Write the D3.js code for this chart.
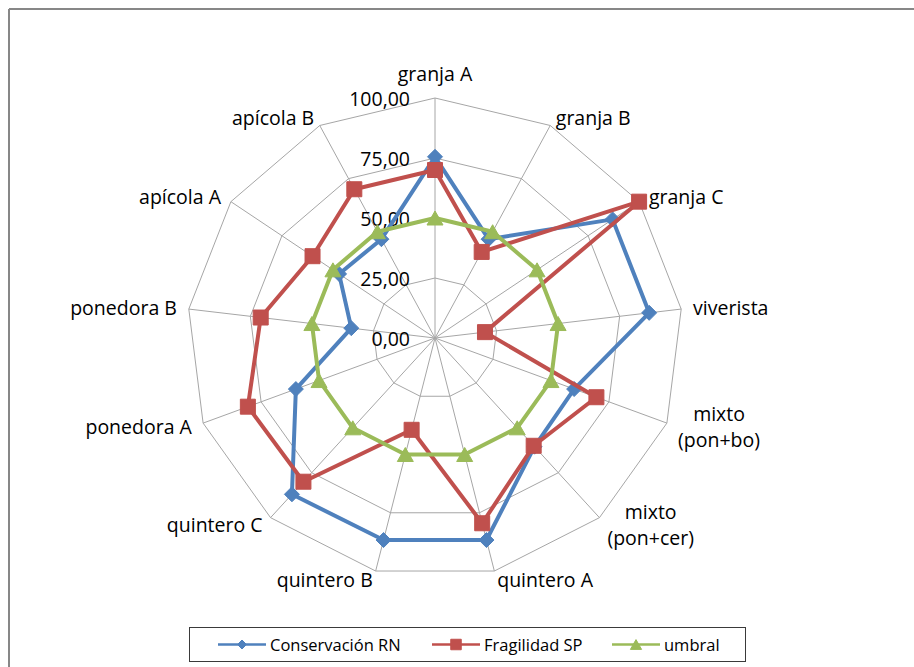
<!DOCTYPE html>
<html>
<head>
<meta charset="utf-8">
<script src="https://cdn.jsdelivr.net/npm/d3@7"></script>
<style>
  html, body { margin: 0; padding: 0; background: #fff; }
  svg { display: block; }
  text { font-family: "Open Sans", "Noto Sans", sans-serif; fill: #000; }
</style>
</head>
<body>
<svg id="chart" width="914" height="667"></svg>
<script>
const categories = ["granja A", "granja B", "granja C", "viverista", "mixto (pon+bo)", "mixto (pon+cer)", "quintero A", "quintero B", "quintero C", "ponedora A", "ponedora B", "apícola A", "apícola B"];
const categoryLines = [["granja A"], ["granja B"], ["granja C"], ["viverista"], ["mixto", "(pon+bo)"], ["mixto", "(pon+cer)"], ["quintero A"], ["quintero B"], ["quintero C"], ["ponedora A"], ["ponedora B"], ["apícola A"], ["apícola B"]];
const conservacionRN = [75.5, 46.5, 87, 87, 60, 60.5, 86.7, 86.7, 87, 60, 34, 47, 46.5];
const fragilidadSP = [70, 40.5, 100, 20.3, 69.6, 60, 79.5, 39.4, 80, 80.7, 70.8, 60, 70];
const umbral = [50, 50, 50, 50, 50, 50, 50, 50, 50, 50, 50, 50, 50];
const tickValues = [0, 25, 50, 75, 100];
const seriesNames = ["Conservación RN", "Fragilidad SP", "umbral"];

const svg = d3.select("#chart");
const cx = 435, cy = 338;
const rx = d3.scaleLinear().domain([0, 100]).range([0, 248]);
const ry = d3.scaleLinear().domain([0, 100]).range([0, 240]);
const n = categories.length;
const angle = d3.scaleLinear().domain([0, n]).range([0, 2 * Math.PI]);
const px = (i, v) => cx + rx(v) * Math.sin(angle(i));
const py = (i, v) => cy - ry(v) * Math.cos(angle(i));
const fmt = d3.formatLocale({decimal: ",", thousands: ".", grouping: [3], currency: ["", ""]}).format(".2f");

// outer chart frame (top and left visible)
svg.append("line").attr("x1", 9).attr("y1", 9).attr("x2", 914).attr("y2", 9).attr("stroke", "#878787").attr("stroke-width", 2);
svg.append("line").attr("x1", 9).attr("y1", 9).attr("x2", 9).attr("y2", 667).attr("stroke", "#878787").attr("stroke-width", 2);

const grid = svg.append("g");
const idx = d3.range(n);
// rings
tickValues.filter(t => t > 0).forEach(t => {
  grid.append("path")
    .attr("d", d3.line()(idx.map(i => [px(i, t), py(i, t)])) + "Z")
    .attr("fill", "none").attr("stroke", "#a6a6a6").attr("stroke-width", 1);
});
// spokes
idx.forEach(i => {
  grid.append("line").attr("x1", cx).attr("y1", cy).attr("x2", px(i, 100)).attr("y2", py(i, 100))
    .attr("stroke", "#a6a6a6").attr("stroke-width", 1);
});

// tick labels
svg.append("g").selectAll("text").data(tickValues).join("text")
  .attr("x", cx - 25).attr("y", d => cy - ry(d))
  .attr("text-anchor", "end").attr("dominant-baseline", "central")
  .style("font-size", "19.5px")
  .text(d => fmt(d));

// category labels
const labG = svg.append("g");
idx.forEach(i => {
  const a = angle(i), s = Math.sin(a), c = Math.cos(a);
  const vx = px(i, 100), vy = py(i, 100);
  const lines = categoryLines[i];
  const lh = 26;
  const g = labG.append("g");
  const texts = lines.map((l, k) => g.append("text").style("font-size", "19.5px").attr("dominant-baseline", "central").attr("text-anchor", "middle").text(l));
  const w = d3.max(texts, t => t.node().getComputedTextLength());
  let bx, byc;
  if (Math.abs(s) < 0.1) {
    bx = vx; byc = vy - (c > 0 ? 25 : -25);
  } else {
    const ox = vx + s * 12;
    bx = s > 0 ? ox + w / 2 : ox - w / 2;
    byc = vy - c * 9;
  }
  texts.forEach((t, k) => t.attr("x", bx).attr("y", byc + (k - (lines.length - 1) / 2) * lh));
});

// series
const colors = ["#4f81bd", "#c0504d", "#9bbb59"];
const allSeries = [conservacionRN, fragilidadSP, umbral];

function marker(g, type, x, y, scale, color) {
  let d;
  if (type === 0) { const w = 7.5 * scale, h = 7.5 * scale; d = `M${x},${y - h}L${x + w},${y}L${x},${y + h}L${x - w},${y}Z`; }
  else if (type === 1) { const h = 7.5 * scale; d = `M${x - h},${y - h}H${x + h}V${y + h}H${x - h}Z`; }
  else { const w = 8 * scale, h = 7 * scale; d = `M${x},${y - h}L${x + w},${y + h}L${x - w},${y + h}Z`; }
  g.append("path").attr("d", d).attr("fill", color).attr("stroke", color).attr("stroke-width", 1);
}

const lineGen = d3.line().x(d => d[0]).y(d => d[1]);
allSeries.forEach((vals, si) => {
  const g = svg.append("g");
  const pts = vals.map((v, i) => [px(i, v), py(i, v)]);
  g.append("path").attr("d", lineGen(pts) + "Z").attr("fill", "none")
    .attr("stroke", colors[si]).attr("stroke-width", 4).attr("stroke-linejoin", "round");
  pts.forEach(p => marker(g, si, p[0], p[1], 1, colors[si]));
});

// legend
const leg = svg.append("g");
leg.append("rect").attr("x", 189.5).attr("y", 627.5).attr("width", 556).attr("height", 34)
  .attr("fill", "#fff").attr("stroke", "#3a3a3a").attr("stroke-width", 1);
const legX = [218, 432, 612];
const ly = 644.5;
seriesNames.forEach((name, si) => {
  const x0 = legX[si];
  leg.append("line").attr("x1", x0).attr("y1", ly).attr("x2", x0 + 48).attr("y2", ly)
    .attr("stroke", colors[si]).attr("stroke-width", 2.5);
  marker(leg, si, x0 + 24, ly, si === 0 ? 0.6 : 0.7, colors[si]);
  leg.append("text").attr("x", x0 + 52).attr("y", ly).attr("dominant-baseline", "central")
    .style("font-size", "16.5px").text(name);
});
</script>
</body>
</html>
